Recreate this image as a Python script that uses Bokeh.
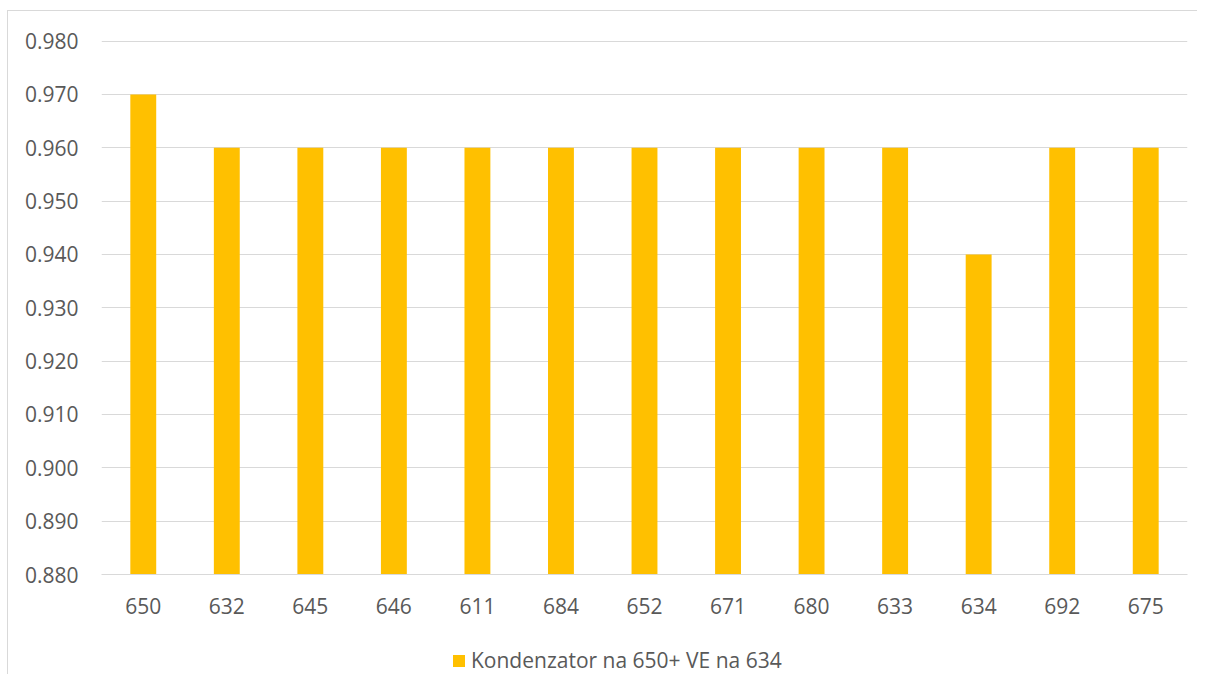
from bokeh.plotting import figure
from bokeh.layouts import column
from bokeh.models import ColumnDataSource, Range1d, FixedTicker, NumeralTickFormatter, Legend, LegendItem, FactorRange
from bokeh.embed import file_html
from bokeh.resources import INLINE

categories = ["650", "632", "645", "646", "611", "684", "652", "671", "680", "633", "634", "692", "675"]
values = [0.970, 0.960, 0.960, 0.960, 0.960, 0.960, 0.960, 0.960, 0.960, 0.960, 0.940, 0.960, 0.960]
series_name = "Kondenzator na 650+ VE na 634"
y_ticks = [0.880, 0.890, 0.900, 0.910, 0.920, 0.930, 0.940, 0.950, 0.960, 0.970, 0.980]

FONT = "Open Sans"
FS = "21px"
TXT = "#595959"
GRID = "#d9d9d9"
BAR = "#FFC000"

y_min, y_max = y_ticks[0], y_ticks[-1]

src = ColumnDataSource(dict(cat=categories, val=values, base=[y_min] * len(values)))

chart_bg = ("linear-gradient(#d9d9d9,#d9d9d9) 7px 10px / 1px calc(100% - 10px) no-repeat, "
            "linear-gradient(#d9d9d9,#d9d9d9) 7px 10px / calc(100% - 7px) 1px no-repeat, #ffffff")

x_range = FactorRange(*categories, range_padding=0)

p = figure(
    frame_width=1086, frame_height=534,
    x_range=x_range,
    y_range=Range1d(y_min, y_max + 0.0001),
    output_backend="svg", toolbar_location=None,
    min_border_left=101, min_border_right=10, min_border_top=40, min_border_bottom=52,
)
p.outline_line_color = None
p.border_fill_alpha = 0
p.background_fill_color = "#ffffff"

r = p.vbar(x="cat", top="val", bottom="base", width=0.31, source=src,
           fill_color=BAR, line_color=None)

p.xgrid.grid_line_color = None
p.ygrid.grid_line_color = GRID
p.ygrid.grid_line_width = 1
p.yaxis.ticker = FixedTicker(ticks=y_ticks)
p.yaxis.formatter = NumeralTickFormatter(format="0.000")

p.yaxis.axis_line_color = None
p.yaxis.major_tick_line_color = None
p.yaxis.minor_tick_line_color = None
p.yaxis.major_tick_out = 0
p.yaxis.minor_tick_out = 0
p.yaxis.major_label_standoff = 23
p.yaxis.major_label_text_font = FONT
p.yaxis.major_label_text_font_size = FS
p.yaxis.major_label_text_color = TXT

p.xaxis.axis_line_color = GRID
p.xaxis.axis_line_width = 1
p.xaxis.major_tick_line_color = None
p.xaxis.minor_tick_line_color = None
p.xaxis.major_tick_out = 0
p.xaxis.minor_tick_out = 0
p.xaxis.major_label_standoff = 23
p.xaxis.major_label_text_font = FONT
p.xaxis.major_label_text_font_size = FS
p.xaxis.major_label_text_color = TXT

# legend strip below the chart (shares the category scale; its y-window keeps the bars out of view)
lg = figure(width=1197, height=48, output_backend="svg", toolbar_location=None,
            x_range=x_range, y_range=Range1d(2, 3),
            min_border=0)
lg.axis.visible = False
lg.grid.visible = False
lg.outline_line_color = None
lg.border_fill_alpha = 0
lg.background_fill_alpha = 0
swatch = lg.vbar(x="cat", top="val", bottom="base", width=0.31, source=src,
                 fill_color=BAR, line_color=None)

legend = Legend(items=[LegendItem(label=series_name, renderers=[swatch])],
                orientation="horizontal", location=(350, 0),
                label_text_font=FONT, label_text_font_size=FS, label_text_color=TXT,
                glyph_width=15, glyph_height=15, label_standoff=5,
                border_line_color=None, background_fill_alpha=0,
                padding=0, margin=0, spacing=0)
lg.add_layout(legend)

layout = column(p, lg, spacing=0, styles={"background": chart_bg})

open("out.html", "w").write(file_html(layout, INLINE))
